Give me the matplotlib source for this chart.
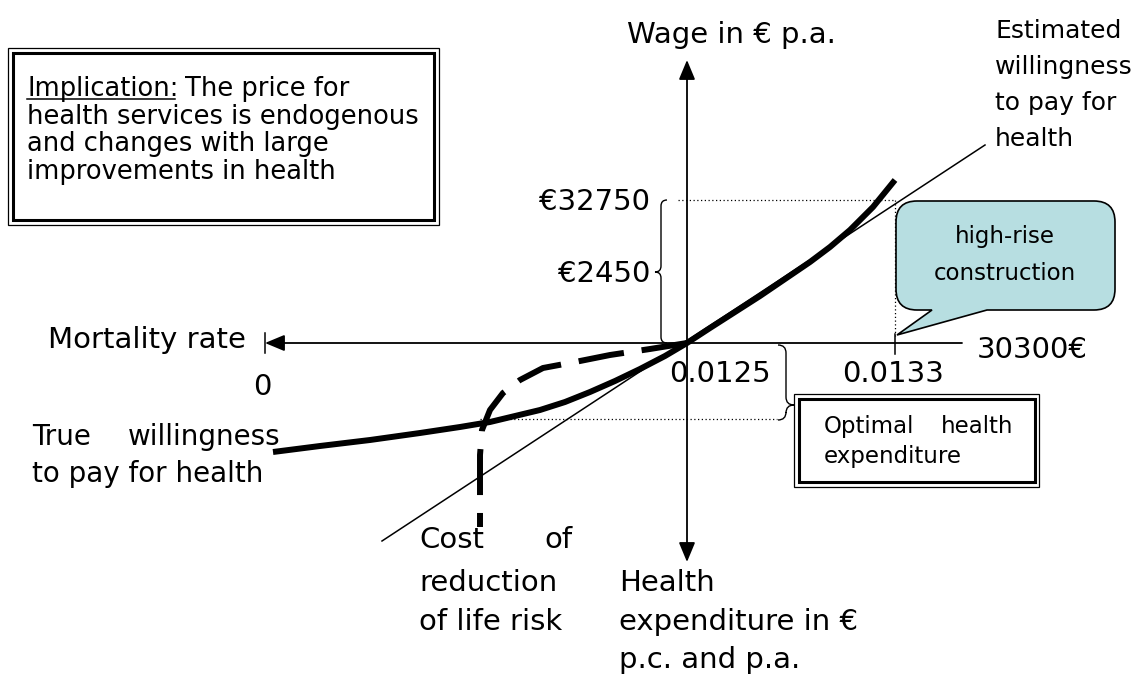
import matplotlib
matplotlib.use("Agg")
import matplotlib.pyplot as plt
from matplotlib.path import Path
from matplotlib.patches import PathPatch, Rectangle

# --- data (pixel grid of the original, y grows downwards) ---
true_wtp_x = [273, 320, 370, 420, 460, 490, 515, 540, 565, 590, 615, 640, 665, 687,
              710, 735, 760, 785, 810, 830, 850, 873, 895]
true_wtp_y = [452, 446, 440, 433, 427, 422, 416, 410, 402, 392, 381, 369, 356, 343,
              328, 312, 296, 279, 262, 247, 230, 207, 180]

cost_x = [687, 650, 610, 575, 543, 520, 503, 490, 482, 480, 480, 480]
cost_y = [343, 349, 355, 362, 368, 380, 393, 410, 430, 455, 490, 527]

est_wtp_x = [382, 985]
est_wtp_y = [541, 145]

rate_labels = ["0", "0.0125", "0.0133"]
wage_labels = ["€32750", "€2450"]
wage_axis_label = "30300€"

# schematic layout (not to scale)
ORIGIN = (687, 343)
RATE_POS = [265, 687, 895]
WAGE_POS = [200, 272]
OPT_LEVEL = 419

BIG = 21
K = "black"

fig = plt.figure(figsize=(11.43, 6.75), dpi=100)
ax = fig.add_axes([0, 0, 1, 1])
ax.set_xlim(0, 1143)
ax.set_ylim(675, 0)
ax.axis("off")


def txt(x, y, s, size=BIG, ha="left"):
    ax.text(x, y, s, fontsize=size, ha=ha, va="baseline", color=K, zorder=6)


def brace(xs, y0, y1, ytip, side, r=6, d=6):
    # side=-1 -> "{" (tip left), side=+1 -> "}" (tip right)
    hx = -side * r
    verts = [(xs + hx, y0), (xs, y0), (xs, y0 + r),
             (xs, ytip - r), (xs, ytip), (xs + side * d, ytip),
             (xs, ytip), (xs, ytip + r),
             (xs, y1 - r), (xs, y1), (xs + hx, y1)]
    codes = [Path.MOVETO, Path.CURVE3, Path.CURVE3,
             Path.LINETO, Path.CURVE3, Path.CURVE3,
             Path.CURVE3, Path.CURVE3,
             Path.LINETO, Path.CURVE3, Path.CURVE3]
    ax.add_patch(PathPatch(Path(verts, codes), fill=False, lw=1.0, ec=K))


# axes with arrow heads
arrow = dict(arrowstyle="-|>,head_length=0.6,head_width=0.25", mutation_scale=20,
             color=K, lw=1.3, shrinkA=0, shrinkB=0)
ax.annotate("", xy=(687, 60), xytext=ORIGIN, arrowprops=arrow)
ax.annotate("", xy=(687, 562), xytext=ORIGIN, arrowprops=arrow)
ax.annotate("", xy=(265, 343), xytext=(962, 343), arrowprops=arrow)
ax.plot([RATE_POS[0]] * 2, [333, 353], color=K, lw=1.1)
ax.plot([RATE_POS[2]] * 2, [334, 354], color=K, lw=1.1)

# dotted guides
dot = dict(color=K, lw=0.9, ls=(0, (1, 2)))
ax.plot([678, 895], [WAGE_POS[0]] * 2, **dot)
ax.plot([895, 895], [WAGE_POS[0], 336], **dot)
ax.plot([480, 777], [OPT_LEVEL] * 2, **dot)

# curves
ax.plot(est_wtp_x, est_wtp_y, color=K, lw=1.1, zorder=3)
ax.plot(true_wtp_x, true_wtp_y, color=K, lw=4.3, solid_joinstyle="round",
        solid_capstyle="butt", zorder=4)
ax.plot(cost_x, cost_y, color=K, lw=4.3, dashes=(7.7, 3.0),
        dash_capstyle="butt", dash_joinstyle="round", zorder=4)

# braces
brace(661, 200, 343, 272, -1)
brace(786, 345, 420, 405, +1, r=8, d=8)

# axis labels and ticks
txt(627, 43, "Wage in € p.a.")
txt(48, 348, "Mortality rate")
txt(262, 395, rate_labels[0], ha="center")
txt(720, 382, rate_labels[1], ha="center")
txt(893, 382, rate_labels[2], ha="center")
txt(650, 210, wage_labels[0], ha="right")
txt(650, 282, wage_labels[1], ha="right")
txt(977, 358, wage_axis_label)

# curve labels
txt(995, 38, "Estimated", 18)
txt(995, 74, "willingness", 18)
txt(995, 110, "to pay for", 18)
txt(995, 146, "health", 18)

txt(32, 445, "True", 20)
txt(280, 445, "willingness", 20, ha="right")
txt(32, 482, "to pay for health", 20)

txt(419, 548, "Cost")
txt(573, 548, "of", ha="right")
txt(419, 591, "reduction")
txt(419, 630, "of life risk")

txt(619, 591, "Health")
txt(619, 630, "expenditure in €")
txt(619, 668, "p.c. and p.a.")

# implication box
ax.add_patch(Rectangle((8, 48), 431, 177, fill=False, ec=K, lw=0.9))
ax.add_patch(Rectangle((13, 53), 421, 167, fill=False, ec=K, lw=2.2))
txt(27, 96, "Implication:", 18.5)
ax.plot([27, 175], [99, 99], color=K, lw=1.1)
txt(185, 96, "The price for", 18.5)
txt(27, 124, "health services is endogenous", 18.5)
txt(27, 151, "and changes with large", 18.5)
txt(27, 179, "improvements in health", 18.5)

# optimal expenditure box
ax.add_patch(Rectangle((794, 394), 245, 93, fill=False, ec=K, lw=0.9))
ax.add_patch(Rectangle((799, 399), 236, 83, fill=False, ec=K, lw=2.2))
txt(824, 433, "Optimal", 16.5)
txt(1013, 433, "health", 16.5, ha="right")
txt(824, 463, "expenditure", 16.5)

# speech bubble
x0, x1, y0, y1, R = 896, 1115, 201, 310, 21
bub = [(x0 + R, y0), (x1 - R, y0), (x1, y0), (x1, y0 + R), (x1, y1 - R), (x1, y1), (x1 - R, y1),
       (987, y1), (897, 335), (932, y1), (x0 + R, y1), (x0, y1), (x0, y1 - R),
       (x0, y0 + R), (x0, y0), (x0 + R, y0), (x0 + R, y0)]
bcodes = [Path.MOVETO, Path.LINETO, Path.CURVE3, Path.CURVE3, Path.LINETO, Path.CURVE3, Path.CURVE3,
          Path.LINETO, Path.LINETO, Path.LINETO, Path.LINETO, Path.CURVE3, Path.CURVE3,
          Path.LINETO, Path.CURVE3, Path.CURVE3, Path.CLOSEPOLY]
ax.add_patch(PathPatch(Path(bub, bcodes), fc="#B7DEE1", ec=K, lw=1.2, zorder=5))
txt(1005, 243, "high-rise", 16.5, ha="center")
txt(1005, 280, "construction", 16.5, ha="center")

fig.savefig("out.png", dpi=100)
